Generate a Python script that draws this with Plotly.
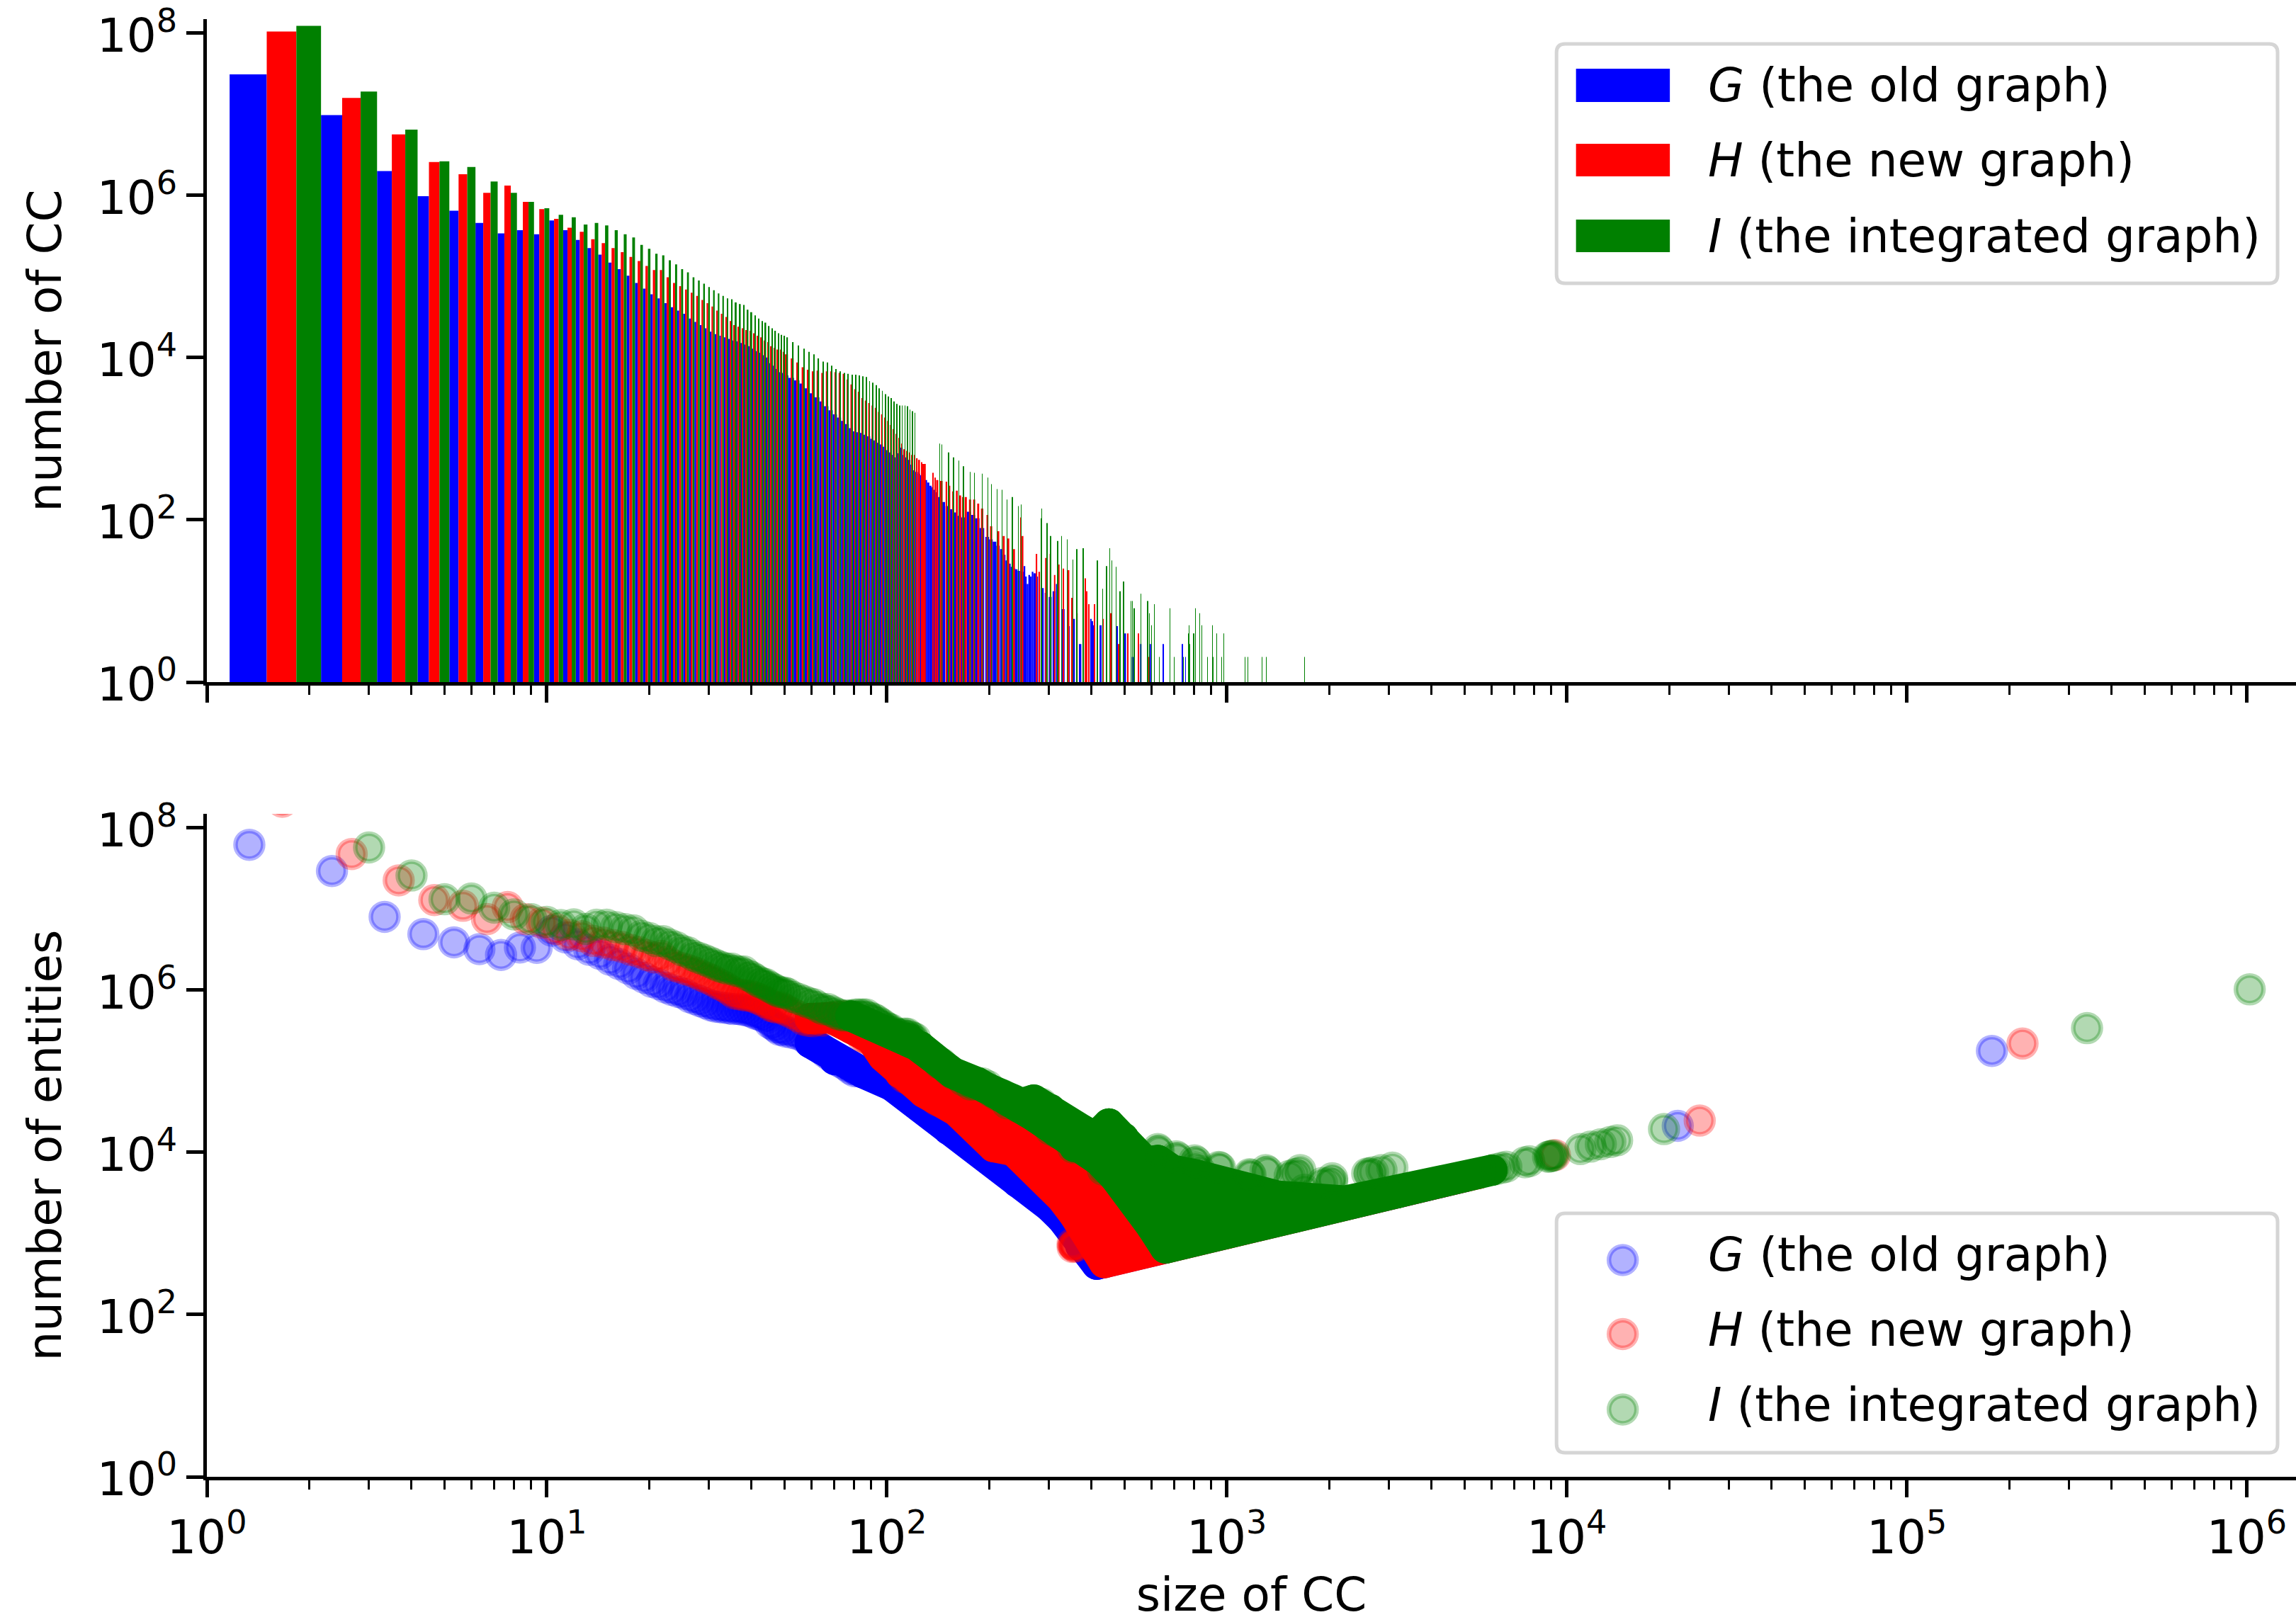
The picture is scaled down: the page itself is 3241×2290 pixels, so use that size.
import numpy as np
import plotly.graph_objects as go

W, H = 3241, 2290
PX0, PX1 = 291.5, 3241.0      # plot area, pixels
PY_TOP0, PY_TOP1 = 27.0, 963.0
PY_BOT0, PY_BOT1 = 1149.0, 2085.0
FONT = "DejaVu Sans"
FS = 66

# ---- counts of connected components per size, log10 ----
g_sizes = list(range(1, 51)) + list(range(52, 142, 2)) + [
    142,146,150,153,158,162,168,174,179,184,190,197,202,207,212,217,221,225,229,233,237,240,244,248,
    251,254,256,259,262,265,268,271,273,275,286,294,302,310,317,330,342,354,370,398,402,405,425,455,475,502,528,558,595,650,740,755]
g_logc = [7.49,6.99,6.30,5.99,5.81,5.66,5.53,5.57,5.52,5.69,5.57,5.45,5.35,5.27,5.17,5.09,5.01,4.92,4.85,4.78,
    4.73,4.67,4.62,4.58,4.54,4.48,4.44,4.40,4.36,4.32,4.29,4.27,4.25,4.23,4.21,4.20,4.18,4.16,4.14,4.11,
    4.08,4.06,4.03,4.00,3.93,3.90,3.86,3.82,3.81,3.78,
    3.75,3.72,3.68,3.62,3.56,3.51,3.46,3.40,3.35,3.30,3.26,3.22,3.18,3.13,3.09,3.08,3.07,3.05,3.03,3.00,2.98,2.95,2.93,2.90,2.86,
    2.83,2.80,2.77,2.82,2.89,2.80,2.77,2.74,2.68,2.61,2.59,2.57,2.55,2.52,2.49,2.46,2.42,2.40,2.37,2.34,
    2.28,2.22,2.17,2.13,2.09,2.05,2.03,2.10,2.06,2.02,1.90,1.79,1.76,1.73,1.68,1.64,1.57,1.50,1.46,1.42,1.40,1.39,1.37,1.36,
    1.36,1.43,1.30,1.21,1.32,1.30,1.36,1.34,1.34,1.30,1.16,1.10,1.05,1.12,1.21,0.90,0.69,0.78,0.47,0.78,0.75,0.70,0.70,0.47,0.69,0.60,0.31,0.47,0.47,0.47,0.47,0.31]

h_sizes = list(range(1, 51)) + list(range(52, 130, 2)) + [
    136,138,140,144,149,152,156,160,164,167,170,175,180,185,190,197,202,212,220,227,236,247,250,275,280,293,302,311,320,330,342,350,362,378,383,387,392,408,415,432,456,480,510,550,590]
h_logc = [8.02,7.20,6.75,6.41,6.26,6.03,6.12,5.92,5.83,5.71,5.60,5.55,5.46,5.41,5.35,5.30,5.24,5.19,5.13,5.08,
    5.08,4.99,4.92,4.88,4.84,4.80,4.76,4.71,4.67,4.63,4.58,4.54,4.50,4.45,4.40,4.38,4.36,4.34,4.33,4.30,
    4.27,4.25,4.21,4.19,4.14,4.12,4.10,4.10,4.07,4.04,
    3.99,3.94,3.88,3.85,3.83,3.84,3.81,3.83,3.83,3.82,3.81,3.80,3.73,3.67,3.61,3.58,3.50,3.47,3.44,3.41,3.38,3.33,3.30,3.26,3.22,
    3.17,3.12,3.06,3.01,2.94,2.87,2.85,2.83,2.80,2.80,2.76,2.74,2.71,2.69,
    2.58,2.52,2.49,2.48,2.47,2.42,2.35,2.36,2.30,2.28,2.28,2.25,2.25,2.20,2.14,2.06,1.92,1.86,1.80,1.77,1.64,2.03,1.80,1.58,1.36,1.53,1.58,1.32,1.45,1.40,1.38,1.04,0.85,1.54,1.28,1.12,0.96,0.96,0.90,0.78,0.85,0.47,0.60,0.60,0.31]

i_sizes = list(range(1, 51)) + list(range(52, 122, 2)) + [
    142,144,151,156,162,167,175,180,190,197,202,210,217,225,233,243,247,283,285,295,302,317,326,338,352,361,377,415,431,442,452,458,472,484,496,522,526,531,535,557,584,590,600,612,632,678,699,743,769,772,778,798,807,832,843,875,905,912,933,965,979,1130,1153,1266,1303,1690]
i_logc = [8.09,7.28,6.81,6.42,6.35,6.17,6.03,5.92,5.84,5.76,5.73,5.64,5.66,5.63,5.57,5.52,5.48,5.39,5.34,5.28,
    5.26,5.20,5.15,5.09,5.05,4.99,4.95,4.91,4.87,4.83,4.79,4.76,4.73,4.72,4.68,4.66,4.65,4.59,4.56,4.52,
    4.48,4.45,4.43,4.39,4.36,4.33,4.30,4.28,4.27,4.25,
    4.19,4.15,4.11,4.07,4.04,3.99,3.95,3.94,3.90,3.86,3.83,3.81,3.80,3.79,3.79,3.78,3.77,3.76,3.71,3.69,3.66,3.62,3.59,3.55,3.52,3.50,3.46,3.43,3.41,3.41,3.41,3.40,3.36,3.34,3.32,
    2.94,2.93,2.83,2.77,2.73,2.66,2.59,2.58,2.57,2.52,2.44,2.38,2.37,2.25,2.28,2.17,2.19,2.02,2.14,1.96,1.80,1.74,1.80,1.76,1.51,1.64,1.65,1.50,1.15,1.43,1.65,1.50,1.42,1.12,1.24,1.0,1.0,0.91,0.91,1.09,1.0,0.85,0.70,0.96,0.31,0.91,0.31,0.31,0.60,0.70,0.47,0.60,0.91,0.85,0.70,0.31,0.70,0.31,0.60,0.31,0.60,0.31,0.31,0.31,0.31,0.31]

# ---- solid parts of the bottom panel, log10(size), log10(entities) ----
g_band_logx = [1.775,1.847,1.93,2.014,2.098,2.182,2.241,2.301,2.385,2.48,2.516,2.57,2.618,3.70]
g_band_logy = [5.35,5.14,4.98,4.825,4.56,4.28,4.19,3.93,3.63,3.33,3.18,2.85,2.62,3.70]

h_band_logx = [1.775,1.835,1.895,1.954,1.99,2.039,2.109,2.205,2.253,2.314,2.373,2.409,2.469,2.516,2.552,2.583,2.606,2.64,3.74,3.0,2.9,2.7,2.5,2.3,2.1,1.9]
h_band_logy = [5.65,5.66,5.53,5.40,5.18,4.98,4.74,4.51,4.33,4.07,4.02,3.90,3.67,3.43,3.23,3.06,2.88,2.64,3.74,3.0,3.4,3.6,4.1,4.6,5.1,5.6]

i_band_logx = [1.895,2.05,2.098,2.193,2.289,2.397,2.432,2.48,2.528,2.576,2.611,2.653,2.696,2.761,2.797,2.839,2.911,3.007,3.15,3.35,3.5,3.78,
               3.5,3.2,2.82,2.78,2.72,2.672,2.624,2.552,2.432,2.266,2.195,2.062]
i_band_logy = [5.68,5.41,5.30,4.98,4.795,4.60,4.645,4.53,4.33,4.27,4.18,4.35,4.175,3.88,3.90,3.78,3.72,3.60,3.46,3.40,3.5,3.78,
               3.5,3.2,2.82,3.08,3.49,3.69,3.90,4.07,4.45,4.86,4.98,5.40]

# isolated components, one of each size: number of entities equals the size
g_tail_sizes = [21200, 178000]
h_tail_sizes = [9230, 24600, 219000]
i_tail_sizes = [6170,6430,6640,7530,7760,8810,8910,9020,9120,10960,11750,12590,13430,14060,19320,339000,1020000]

# loose points above / below the solid parts
h_loose_sizes = [355, 355, 352, 358, 352]
h_loose_entities = [700, 720, 745, 690, 680]
i_loose_logx = [2.797,2.80,2.851,2.855,2.905,2.91,2.976,2.98,3.067,3.07,3.114,3.12,3.185,3.20,3.21,3.216,3.28,3.30,3.31,3.31,3.413,3.42,3.43,3.455,3.487]
i_loose_logy = [4.04,4.02,3.95,3.93,3.90,3.88,3.82,3.81,3.73,3.72,3.78,3.76,3.71,3.73,3.74,3.78,3.62,3.62,3.64,3.68,3.74,3.74,3.755,3.78,3.81]

names = ["<i>G</i> (the old graph)", "<i>H</i> (the new graph)", "<i>I</i> (the integrated graph)"]
solid = ["#0000ff", "#ff0000", "#008000"]
soft = ["rgba(0,0,255,0.3)", "rgba(255,0,0,0.3)", "rgba(0,128,0,0.3)"]
offsets = [1/3, 2/3, 1.0]
BAR_W = 1/3
DISC = 39
RING = 6.5
BAND = 44

def px_x(p): return (p - PX0) / (PX1 - PX0)
def px_y(p): return (PY_BOT1 - p) / (PY_BOT1 - PY_TOP0)

dom_gap_top = (PY_BOT1 - PY_TOP1) / (PY_BOT1 - PY_TOP0)
dom_gap_bot = (PY_BOT1 - PY_BOT0) / (PY_BOT1 - PY_TOP0)

fig = go.Figure()
sizes = [np.array(g_sizes, float), np.array(h_sizes, float), np.array(i_sizes, float)]
counts = [10 ** np.array(g_logc), 10 ** np.array(h_logc), 10 ** np.array(i_logc)]

# where only every second or third size was read, the lower series' bars span the step so the columns stay closed
span_share = [1.0, 0.5, 0.0]
span_cap = [6.0, 3.0, 0.0]
for k in range(3):
    gaps = np.diff(sizes[k], append=sizes[k][-1] + 1)
    w = np.where(gaps > 1, np.maximum(BAR_W, np.minimum(gaps * span_share[k], span_cap[k])), BAR_W)
    fig.add_trace(go.Bar(x=sizes[k] + offsets[k], y=counts[k], width=w, name=names[k],
                         marker=dict(color=solid[k], line=dict(width=0)),
                         xaxis="x", yaxis="y", showlegend=False))

bands = [(g_band_logx, g_band_logy), (h_band_logx, h_band_logy), (i_band_logx, i_band_logy)]
tails = [g_tail_sizes, h_tail_sizes, i_tail_sizes]
for k in range(3):
    fig.add_trace(go.Scatter(x=sizes[k] + offsets[k], y=counts[k] * (sizes[k] + 1), mode="markers", name=names[k],
                             marker=dict(size=DISC, color=soft[k], line=dict(color=soft[k], width=RING)),
                             xaxis="x2", yaxis="y2", showlegend=False))
    bx, by = 10 ** np.array(bands[k][0]), 10 ** np.array(bands[k][1])
    closed = k > 0
    fig.add_trace(go.Scatter(x=bx, y=by, mode="lines+markers", name=names[k],
                             fill="toself" if closed else "none", fillcolor=solid[k],
                             line=dict(color=solid[k], width=BAND),
                             marker=dict(size=BAND, color=solid[k], line=dict(width=0)),
                             xaxis="x2", yaxis="y2", showlegend=False, hoverinfo="skip"))
    t = np.array(tails[k], float)
    fig.add_trace(go.Scatter(x=t, y=t, mode="markers", name=names[k],
                             marker=dict(size=DISC, color=soft[k], line=dict(color=soft[k], width=RING)),
                             xaxis="x2", yaxis="y2", showlegend=False))
    if k == 1:
        fig.add_trace(go.Scatter(x=h_loose_sizes, y=h_loose_entities, mode="markers", name=names[k],
                                 marker=dict(size=DISC, color=soft[k], line=dict(color=soft[k], width=RING)),
                                 xaxis="x2", yaxis="y2", showlegend=False))
    if k == 2:
        fig.add_trace(go.Scatter(x=10 ** np.array(i_loose_logx), y=10 ** np.array(i_loose_logy), mode="markers", name=names[k],
                                 marker=dict(size=DISC, color=soft[k], line=dict(color=soft[k], width=RING)),
                                 xaxis="x2", yaxis="y2", showlegend=False))

x_majors = [10 ** p for p in range(0, 7)]
x_labels = [f"10<sup>{p}</sup>" for p in range(0, 7)]
x_minors = [m * 10 ** p for p in range(0, 7) for m in range(2, 10)]
y_majors = [10 ** p for p in range(0, 9, 2)]
y_labels = [f"10<sup>{p}</sup>" for p in range(0, 9, 2)]

X_RANGE = [0, (PX1 - PX0) / 480.0]
Y_RANGE = [0, 8.172]
tickfont = dict(family=FONT, size=FS, color="black")

def xaxis(labels, **kw):
    return dict(type="log", range=X_RANGE, showgrid=False, zeroline=False, showline=True, linecolor="black", linewidth=4.5,
                ticks="outside", ticklen=24, tickwidth=4.5, tickcolor="black",
                tickmode="array", tickvals=x_majors, ticktext=x_labels, showticklabels=labels, tickfont=tickfont,
                minor=dict(tickmode="array", tickvals=x_minors, ticks="outside", ticklen=13, tickwidth=3, tickcolor="black", showgrid=False),
                **kw)

def yaxis(title, **kw):
    return dict(type="log", range=Y_RANGE, showgrid=False, zeroline=False, showline=True, linecolor="black", linewidth=4.5,
                ticks="outside", ticklen=24, tickwidth=4.5, tickcolor="black",
                tickmode="array", tickvals=y_majors, ticktext=y_labels, tickfont=tickfont, ticklabelshift=3,
                title=dict(text=title, font=dict(family=FONT, size=FS, color="black"), standoff=30), automargin="left",
                **kw)

shapes, annotations = [], []
def rounded_box(x0, y0, x1, y1, r=12):
    X0, X1 = px_x(x0), px_x(x1)
    Y0, Y1 = px_y(y0), px_y(y1)
    rx, ry = r / (PX1 - PX0), r / (PY_BOT1 - PY_TOP0)
    path = (f"M {X0+rx} {Y0} L {X1-rx} {Y0} Q {X1} {Y0} {X1} {Y0-ry} L {X1} {Y1+ry} Q {X1} {Y1} {X1-rx} {Y1} "
            f"L {X0+rx} {Y1} Q {X0} {Y1} {X0} {Y1+ry} L {X0} {Y0-ry} Q {X0} {Y0} {X0+rx} {Y0} Z")
    shapes.append(dict(type="path", xref="paper", yref="paper", path=path, fillcolor="rgba(255,255,255,0.8)",
                       line=dict(color="#d5d5d5", width=5), layer="above"))

def legend_text(y, k):
    annotations.append(dict(xref="paper", yref="paper", x=px_x(2409), y=px_y(y), xanchor="left", yanchor="middle",
                            text=names[k], showarrow=False, font=dict(family=FONT, size=FS, color="black")))

rounded_box(2197, 62, 3215, 400)
for k, (y0, y1, ty) in enumerate([(97, 144, 120), (203, 249, 225), (310, 356, 332)]):
    shapes.append(dict(type="rect", xref="paper", yref="paper", x0=px_x(2224.5), x1=px_x(2357), y0=px_y(y0), y1=px_y(y1),
                       fillcolor=solid[k], line=dict(width=0), layer="above"))
    legend_text(ty + 1, k)

rounded_box(2197, 1713, 3215, 2051)
for k, (cy, ty) in enumerate([(1779, 1770), (1883.5, 1876), (1990, 1982)]):
    R = DISC / 2
    shapes.append(dict(type="circle", xref="paper", yref="paper", x0=px_x(2290.5 - R), x1=px_x(2290.5 + R), y0=px_y(cy - R), y1=px_y(cy + R),
                       fillcolor=soft[k], line=dict(color=soft[k], width=RING), layer="above"))
    legend_text(ty + 1, k)

fig.update_layout(
    width=W, height=H, autosize=False, barmode="overlay", template="none",
    paper_bgcolor="white", plot_bgcolor="white", showlegend=False, hovermode=False,
    margin=dict(l=PX0, r=0, t=PY_TOP0, b=H - PY_BOT1, pad=0),
    font=dict(family=FONT, size=FS, color="black"),
    xaxis=xaxis(False, domain=[0, 1], anchor="y"),
    yaxis=yaxis("number of CC", domain=[dom_gap_top, 1], anchor="x"),
    xaxis2=xaxis(True, domain=[0, 1], anchor="y2",
                 title=dict(text="size of CC", font=dict(family=FONT, size=FS, color="black"), standoff=28), automargin="bottom"),
    yaxis2=yaxis("number of entities", domain=[0, dom_gap_bot], anchor="x2"),
    shapes=shapes, annotations=annotations,
)

page_css = ("document.body.style.margin='0';document.body.style.overflow='hidden';"
            "var s=document.createElement('style');s.textContent='.js-line{stroke-linejoin:round !important;stroke-linecap:round !important;}';"
            "document.head.appendChild(s);")
fig.write_html("out.html", post_script=page_css, config=dict(displayModeBar=False))
